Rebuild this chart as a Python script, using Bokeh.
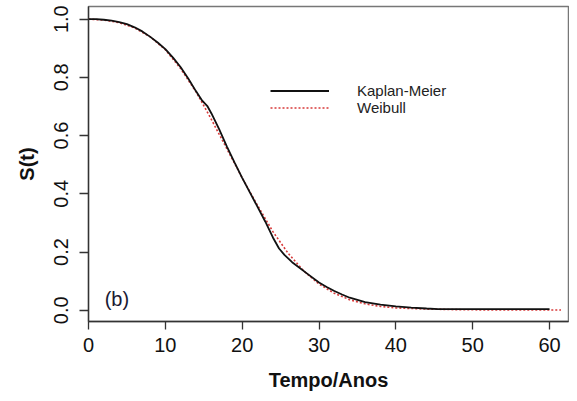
from bokeh.plotting import figure
from bokeh.models import Legend, LegendItem, Label, Range1d, FixedTicker
from bokeh.embed import file_html
from bokeh.resources import INLINE

# ---- data ----
km_t = [0, 1, 2, 3, 4, 5, 6, 7, 8, 9, 10, 11, 12, 13, 14, 14.8, 15.5, 16, 17, 18,
        19, 20, 21, 22, 23, 24, 24.8, 25.5, 26.5, 27.5, 28.5, 30, 31, 32, 33, 34,
        36, 38, 40, 42, 44, 45.5, 48, 52, 56, 60]
km_s = [1.0, 1.0, 0.998, 0.995, 0.99, 0.983, 0.972, 0.958, 0.94, 0.92, 0.897,
        0.868, 0.835, 0.795, 0.752, 0.72, 0.7, 0.676, 0.622, 0.563, 0.508, 0.455,
        0.405, 0.355, 0.305, 0.25, 0.212, 0.19, 0.165, 0.145, 0.125, 0.095, 0.08,
        0.066, 0.054, 0.043, 0.028, 0.019, 0.013, 0.009, 0.006, 0.004, 0.004, 0.004,
        0.004, 0.004]

wb_t = [0, 2, 4, 6, 8, 10, 12, 14, 16, 18, 20, 22, 24, 26, 28, 30, 32, 34, 36,
        38, 40, 44, 48, 52, 56, 61.5]
wb_s = [1.0, 0.997, 0.988, 0.97, 0.94, 0.895, 0.83, 0.75, 0.655, 0.555, 0.455,
        0.36, 0.27, 0.195, 0.135, 0.09, 0.058, 0.036, 0.022, 0.013, 0.008, 0.004,
        0.002, 0.001, 0.001, 0.001]

x_ticks = [0, 10, 20, 30, 40, 50, 60]
y_ticks = [0.0, 0.2, 0.4, 0.6, 0.8, 1.0]
y_tick_labels = ["0.0", "0.2", "0.4", "0.6", "0.8", "1.0"]
series_names = ["Kaplan-Meier", "Weibull"]
panel_label = "(b)"

FONT = "Liberation Sans"

p = figure(width=569, height=393, output_backend="svg", toolbar_location=None,
           x_range=Range1d(0, 62.47), y_range=Range1d(-0.0387, 1.0435),
           min_border_left=88, min_border_top=6, min_border_right=1,
           min_border_bottom=71)
p.background_fill_color = "white"
p.border_fill_color = "white"
p.outline_line_color = "#777777"
p.outline_line_width = 1.5
p.xgrid.visible = False
p.ygrid.visible = False

for ax in (p.xaxis[0], p.yaxis[0]):
    ax.axis_line_color = "#333333"
    ax.axis_line_width = 1.3
    ax.major_tick_line_color = "#333333"
    ax.major_tick_line_width = 1.3
    ax.major_tick_in = 0
    ax.minor_tick_line_color = None
    ax.major_label_text_font = FONT
    ax.major_label_text_font_size = "20px"
    ax.major_label_text_color = "#111111"
    ax.axis_label_text_font = FONT
    ax.axis_label_text_font_size = "20px"
    ax.axis_label_text_font_style = "bold"
    ax.axis_label_text_color = "#111111"

p.xaxis.ticker = FixedTicker(ticks=x_ticks)
p.xaxis.major_tick_out = 8
p.xaxis.major_label_standoff = 8
p.xaxis.axis_label = "Tempo/Anos"
p.xaxis.axis_label_standoff = 14

p.yaxis.ticker = FixedTicker(ticks=y_ticks)
p.yaxis.major_label_overrides = {v: s for v, s in zip(y_ticks, y_tick_labels)}
p.yaxis.major_label_orientation = "vertical"
p.yaxis.major_tick_out = 9
p.yaxis.major_label_standoff = 11
p.yaxis.axis_label = "S(t)"
p.yaxis.axis_label_standoff = 14

wb = p.line(wb_t, wb_s, line_color="#d83a3a", line_width=1.6, line_dash="2 2")
km = p.line(km_t, km_s, line_color="#111111", line_width=1.8)

legend = Legend(items=[LegendItem(label=series_names[0], renderers=[km]),
                       LegendItem(label=series_names[1], renderers=[wb])],
                location=(182, 205), padding=0, margin=0, spacing=0,
                border_line_color=None, background_fill_alpha=0,
                glyph_width=59, glyph_height=17, label_height=17,
                label_standoff=28, label_text_font=FONT,
                label_text_font_size="15px", label_text_color="#222222")
p.add_layout(legend, "center")

p.add_layout(Label(x=2.1, y=0.037, text=panel_label, text_font=FONT,
                   text_font_size="20px", text_baseline="middle",
                   text_color="#1a1a33"))

open("out.html", "w").write(file_html(p, INLINE))
